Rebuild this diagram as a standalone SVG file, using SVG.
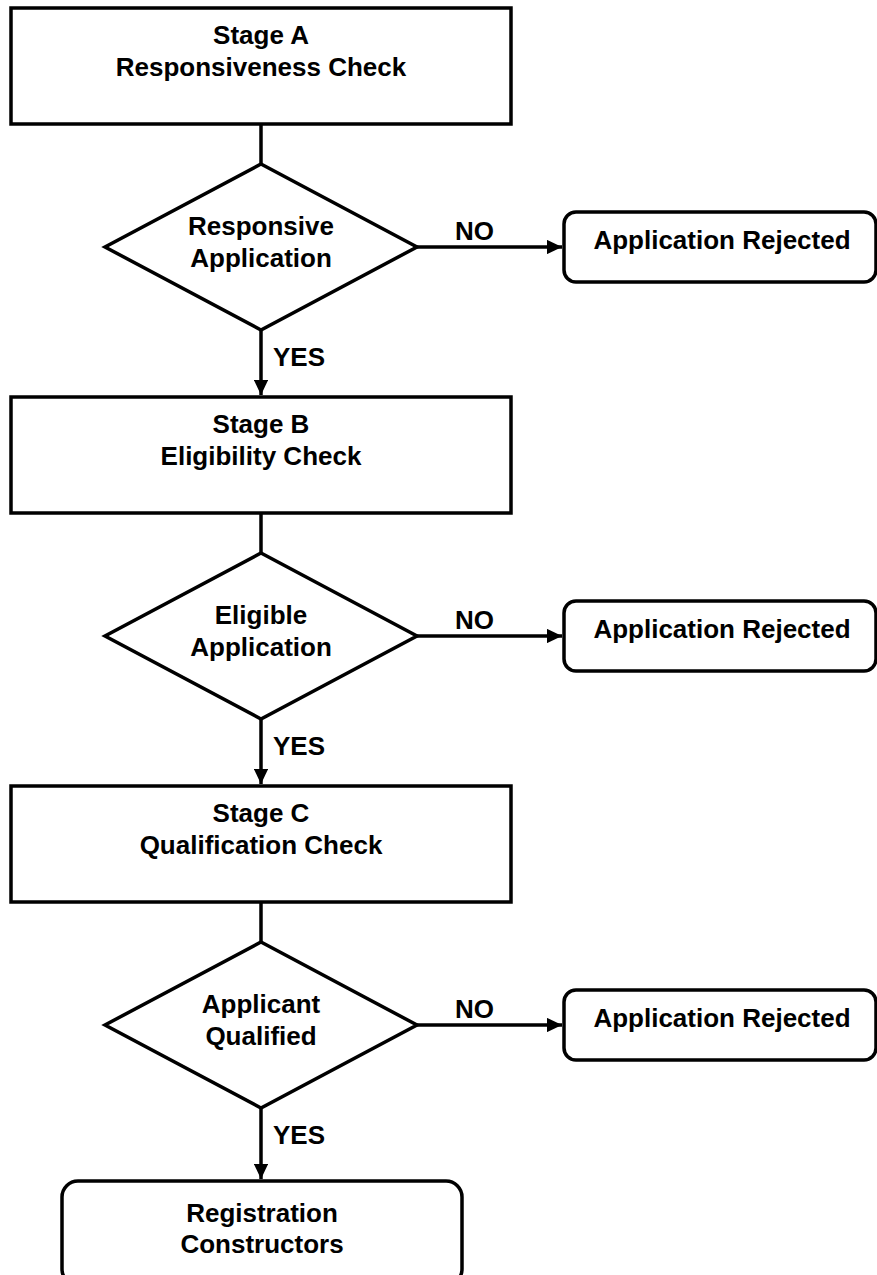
<svg xmlns="http://www.w3.org/2000/svg" width="877" height="1275" viewBox="0 0 877 1275">
<style>
.s{fill:#fff;stroke:#000;stroke-width:3.5}
.t{font-family:"Liberation Sans",Arial,sans-serif;font-weight:bold;font-size:26px;fill:#000;text-anchor:middle}
.l{font-family:"Liberation Sans",Arial,sans-serif;font-weight:bold;font-size:26px;fill:#000}
.c{stroke:#000;stroke-width:3.5;fill:none}
</style>
<defs>
<marker id="ah" viewBox="0 0 10 10" refX="10" refY="5" markerWidth="4.4" markerHeight="4.2" orient="auto" markerUnits="strokeWidth" preserveAspectRatio="none">
<path d="M0,0 L10,5 L0,10 z" fill="#000"/>
</marker>
</defs>
<rect width="877" height="1275" fill="#fff"/>
<g id="connectors">
<line class="c" x1="261" y1="124" x2="261" y2="164"/>
<line class="c" x1="261" y1="513" x2="261" y2="553"/>
<line class="c" x1="261" y1="902" x2="261" y2="942"/>
<line class="c" x1="261" y1="330" x2="261" y2="395" marker-end="url(#ah)"/>
<line class="c" x1="261" y1="719" x2="261" y2="784" marker-end="url(#ah)"/>
<line class="c" x1="261" y1="1108" x2="261" y2="1179" marker-end="url(#ah)"/>
<line class="c" x1="417" y1="247" x2="562" y2="247" marker-end="url(#ah)"/>
<line class="c" x1="417" y1="636" x2="562" y2="636" marker-end="url(#ah)"/>
<line class="c" x1="417" y1="1025" x2="562" y2="1025" marker-end="url(#ah)"/>
<text class="l" x="273" y="366">YES</text>
<text class="l" x="273" y="755">YES</text>
<text class="l" x="273" y="1144">YES</text>
<text class="l" x="455" y="240">NO</text>
<text class="l" x="455" y="629">NO</text>
<text class="l" x="455" y="1018">NO</text>
</g>
<g id="stageA">
<rect class="s" x="11" y="8" width="500" height="116"/>
<text class="t" x="261" y="44">Stage A</text>
<text class="t" x="261" y="76">Responsiveness Check</text>
</g>
<g id="decision1">
<polygon class="s" points="261,164 417,247 261,330 105,247"/>
<text class="t" x="261" y="235">Responsive</text>
<text class="t" x="261" y="267">Application</text>
</g>
<g id="rejected1">
<rect class="s" x="564" y="212" width="312" height="70" rx="12"/>
<text class="t" x="722" y="249">Application Rejected</text>
</g>
<g id="stageB">
<rect class="s" x="11" y="397" width="500" height="116"/>
<text class="t" x="261" y="433">Stage B</text>
<text class="t" x="261" y="465">Eligibility Check</text>
</g>
<g id="decision2">
<polygon class="s" points="261,553 417,636 261,719 105,636"/>
<text class="t" x="261" y="624">Eligible</text>
<text class="t" x="261" y="656">Application</text>
</g>
<g id="rejected2">
<rect class="s" x="564" y="601" width="312" height="70" rx="12"/>
<text class="t" x="722" y="638">Application Rejected</text>
</g>
<g id="stageC">
<rect class="s" x="11" y="786" width="500" height="116"/>
<text class="t" x="261" y="822">Stage C</text>
<text class="t" x="261" y="854">Qualification Check</text>
</g>
<g id="decision3">
<polygon class="s" points="261,942 417,1025 261,1108 105,1025"/>
<text class="t" x="261" y="1013">Applicant</text>
<text class="t" x="261" y="1045">Qualified</text>
</g>
<g id="rejected3">
<rect class="s" x="564" y="990" width="312" height="70" rx="12"/>
<text class="t" x="722" y="1027">Application Rejected</text>
</g>
<g id="registration">
<rect class="s" x="62" y="1181" width="400" height="104" rx="16"/>
<text class="t" x="262" y="1222">Registration</text>
<text class="t" x="262" y="1253">Constructors</text>
</g>
</svg>
